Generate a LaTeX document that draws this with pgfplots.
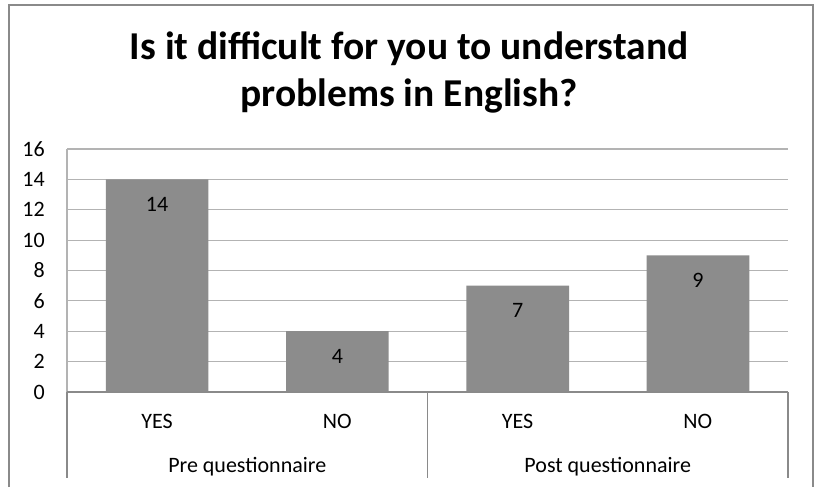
\documentclass[border=0pt]{standalone}
\usepackage{pgfplots}
\pgfplotsset{compat=1.18}
\usepackage{fontspec}
\setmainfont{Carlito}
\definecolor{barc}{HTML}{8C8C8C}
\definecolor{gridc}{HTML}{B3B3B3}
\definecolor{axc}{HTML}{8A8A8A}
\begin{document}
\begin{tikzpicture}
\fill[white] (0bp,0bp) rectangle (815bp,487bp);
\draw[axc, line width=1.2bp] (9bp,0bp) -- (9bp,482bp) -- (813bp,482bp) -- (813bp,0bp);
\node[font=\fontsize{39.5bp}{44bp}\selectfont\bfseries, anchor=base, inner sep=0] at (409bp,427bp) {Is it difficult for you to understand};
\node[font=\fontsize{39.5bp}{44bp}\selectfont\bfseries, anchor=base, inner sep=0] at (409bp,380bp) {problems in English?};
\begin{axis}[
  at={(67bp,95bp)}, anchor=south west,
  scale only axis, width=721bp, height=243bp,
  xmin=-0.5, xmax=3.5, ymin=0, ymax=16,
  ytick={0,2,...,16}, xtick={0,1,2,3},
  xticklabels={YES,NO,YES,NO},
  /pgf/number format/assume math mode=true,
  tick label style={font=\fontsize{22bp}{26bp}\selectfont},
  xticklabel style={anchor=base, yshift=-36bp, inner sep=0},
  yticklabel style={anchor=east, xshift=-22bp, inner sep=0},
  major tick length=0,
  axis line style={draw=none},
  ymajorgrids, grid style={gridc, line width=1.2bp},
  clip=false,
  ybar, bar width=0.57,
  nodes near coords,
  nodes near coords style={anchor=center, yshift=-25bp, font=\fontsize{22bp}{26bp}\selectfont},
]
\addplot[fill=barc, draw=none] coordinates {(0,14) (1,4) (2,7) (3,9)};
\draw[gridc, line width=1.2bp] (axis cs:-0.5,0) -- (axis cs:-0.5,16);
\draw[axc, line width=1.2bp] (axis cs:-0.5,0) -- (axis cs:3.5,0);
\draw[axc, line width=1.2bp] (axis cs:-0.5,0) -- ([yshift=-86bp]axis cs:-0.5,0);
\draw[axc, line width=1.2bp] (axis cs:1.5,0) -- ([yshift=-86bp]axis cs:1.5,0);
\draw[axc, line width=1.2bp] (axis cs:3.5,0) -- ([yshift=-86bp]axis cs:3.5,0);
\node[anchor=base, inner sep=0, font=\fontsize{22bp}{26bp}\selectfont] at ([yshift=-80bp]axis cs:0.5,0) {Pre questionnaire};
\node[anchor=base, inner sep=0, font=\fontsize{22bp}{26bp}\selectfont] at ([yshift=-80bp]axis cs:2.5,0) {Post questionnaire};
\end{axis}
\end{tikzpicture}
\end{document}
